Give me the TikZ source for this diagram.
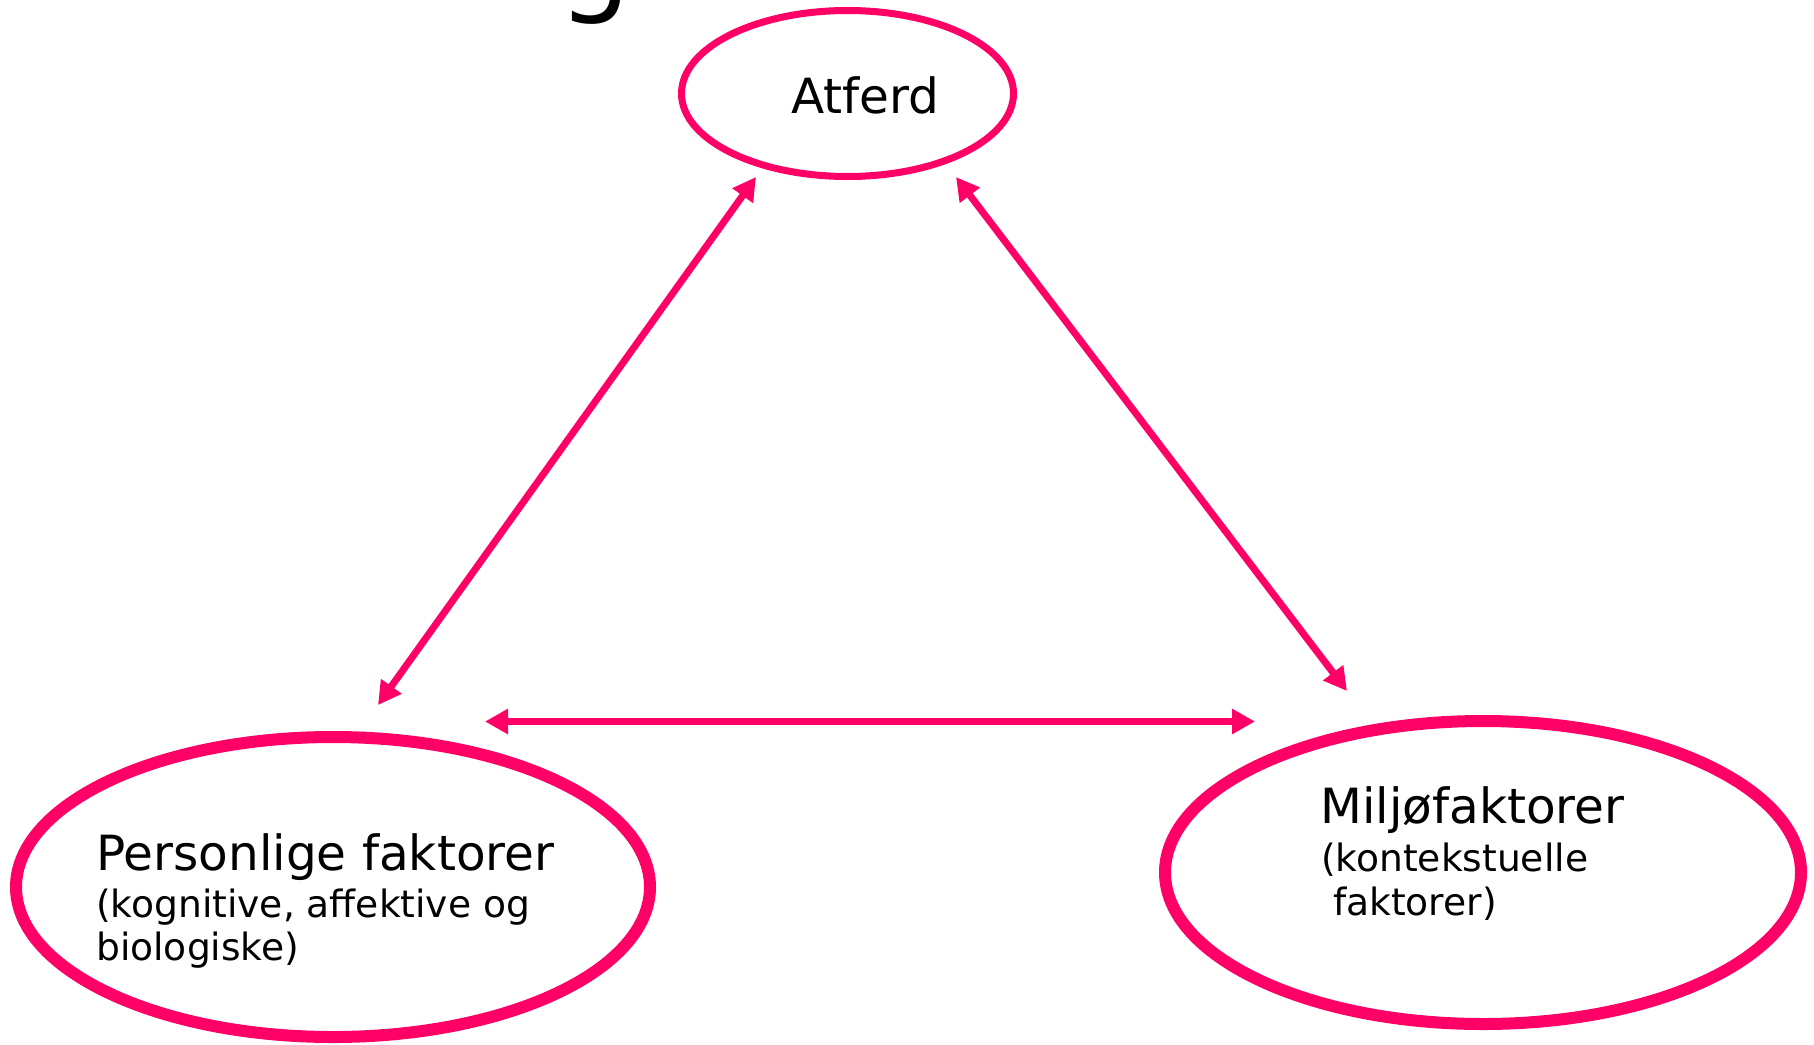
\documentclass[tikz,border=0pt]{standalone}
\usepackage{fontspec}
\setmainfont{DejaVu Sans}
\usetikzlibrary{shapes.geometric,arrows.meta}
\definecolor{pinkred}{RGB}{255,0,102}
\tikzset{
  oval/.style={draw=pinkred, ellipse, inner sep=0pt},
  arr/.style={draw=pinkred, line width=7pt, {Triangle[length=23pt,width=24pt]}-{Triangle[length=23pt,width=24pt]}, shorten <=0pt, shorten >=0pt},
  bigtxt/.style={anchor=base west, inner sep=0pt, font=\fontsize{48.5}{56}\selectfont},
  smalltxt/.style={anchor=base west, inner sep=0pt, font=\fontsize{37.6}{44}\selectfont},
}
\begin{document}
\begin{tikzpicture}[x=1pt,y=-1pt]
\useasboundingbox (0,0) rectangle (1814,1044);
% partially visible title letter
\node[anchor=base west, inner sep=0pt, font=\fontsize{115}{120}\selectfont] (ttl) at (558,0) {g};
% ellipses
\node[oval, line width=7pt, minimum width=332pt, minimum height=166pt] (atf) at (847.5,93.5) {};
\node[oval, line width=12pt, minimum width=634pt, minimum height=300pt] (pers) at (333,887) {};
\node[oval, line width=12pt, minimum width=636pt, minimum height=303pt] (milj) at (1483,872.5) {};
% texts
\node[bigtxt] (atftxt) at (791,113) {Atferd};
\node[bigtxt] (perstxt1) at (96,870) {Personlige faktorer};
\node[smalltxt] (perstxt2) at (96,917) {(kognitive, affektive og};
\node[smalltxt] (perstxt3) at (96,960) {biologiske)};
\node[bigtxt] (milj1) at (1320,823) {Miljøfaktorer};
\node[smalltxt] (milj2) at (1321,871) {(kontekstuelle};
\node[smalltxt] (milj3) at (1321,915) {\ faktorer)};
% connector end points
\coordinate (aL) at (756,177);
\coordinate (pT) at (378,705);
\coordinate (aR) at (956,177);
\coordinate (mT) at (1347,691);
\coordinate (pR) at (485,721.5);
\coordinate (mL) at (1255,721.5);
% connectors
\draw[arr] (aL) -- (pT);
\draw[arr] (aR) -- (mT);
\draw[arr] (pR) -- (mL);
\end{tikzpicture}
\end{document}
